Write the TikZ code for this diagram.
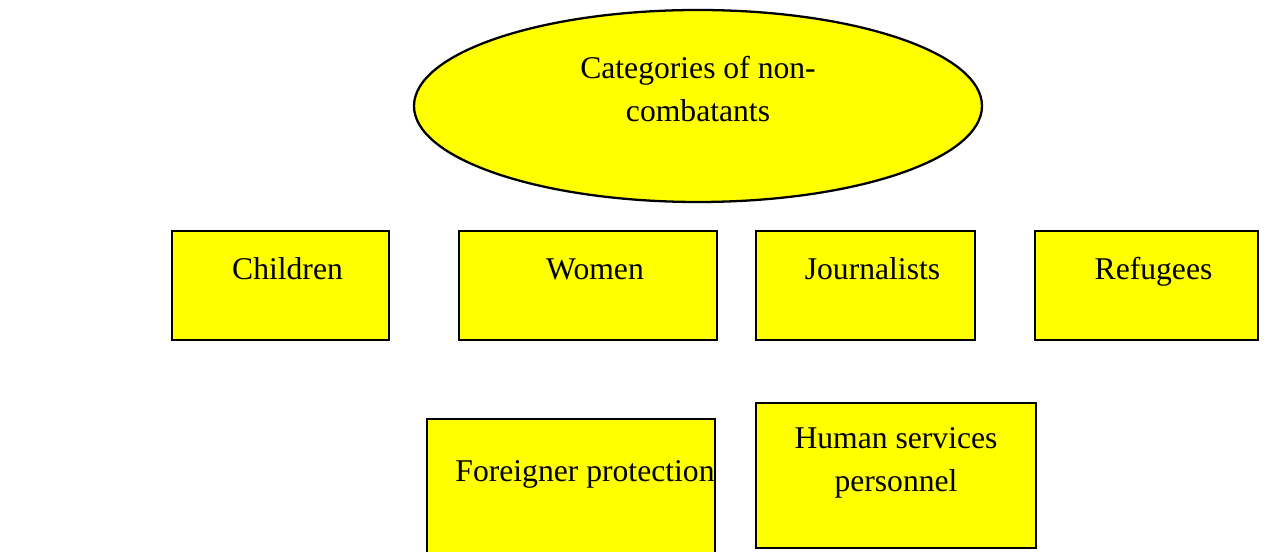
\documentclass[tikz,border=0pt]{standalone}
\usepackage{fontspec}
\setmainfont{Liberation Serif}
\usepackage{tikz}
\usetikzlibrary{shapes.geometric}
\definecolor{boxyellow}{RGB}{255,255,0}

\begin{document}
\begin{tikzpicture}[
    catbox/.style={draw, rectangle, fill=boxyellow, line width=1.3pt, inner sep=0pt,
        font=\fontsize{18}{24.5}\selectfont, align=center},
    rowbox/.style={catbox, text height=0.98cm, text depth=1.2cm, padl=0.28cm},
    padl/.style={execute at begin node={\hspace*{#1}}}
]
\useasboundingbox (0,0) rectangle (25.36,-11.04);

\node[catbox, ellipse, minimum width=11.36cm, minimum height=3.84cm,
      text height=1.14cm, text depth=0.5cm] (top) at (13.96,-2.12) {Categories of non-\\combatants};

\node[rowbox, minimum width=4.34cm] (child) at (5.61,-5.71) {Children};
\node[rowbox, minimum width=5.16cm] (women) at (11.76,-5.71) {Women};
\node[rowbox, minimum width=4.38cm] (journ) at (17.31,-5.71) {Journalists};
\node[rowbox, minimum width=4.46cm] (refug) at (22.93,-5.71) {Refugees};

\node[catbox, minimum width=5.76cm, text height=1.26cm, text depth=1.66cm, padl=0.56cm] (foreign) at (11.42,-9.84) {Foreigner protection};
\node[catbox, minimum width=5.6cm, text height=1.78cm, text depth=1.12cm] (human) at (17.92,-9.51) {Human services\\personnel};
\end{tikzpicture}
\end{document}
